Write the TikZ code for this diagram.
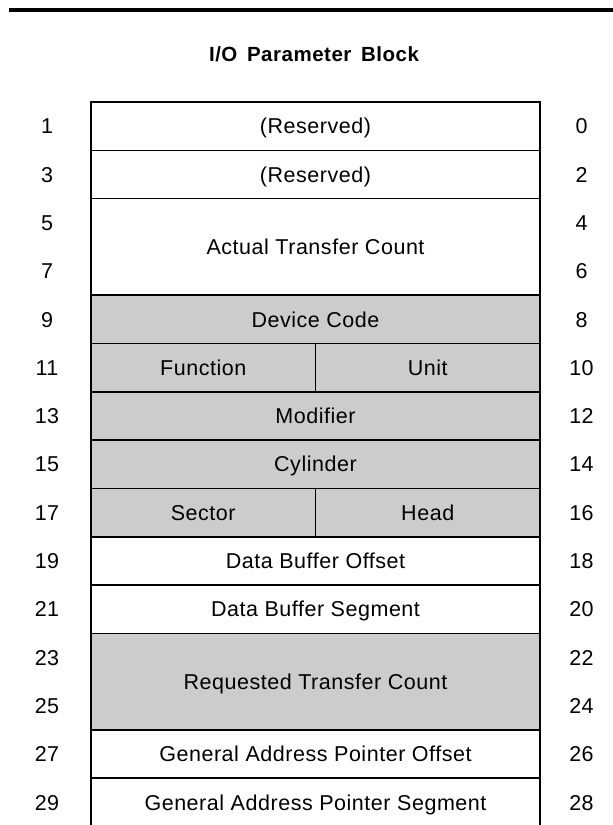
\documentclass[tikz,border=0pt]{standalone}
\usepackage{fontspec}
\setmainfont{Liberation Sans}[LetterSpace=2.5]
\usetikzlibrary{positioning}

\begin{document}
\begin{tikzpicture}[
        x=1pt, y=-1pt,
        font=\fontsize{21.5}{25}\selectfont,
        cell/.style={draw, line width=1.6pt, minimum height=48.3pt, minimum width=449pt,
            anchor=north west, inner sep=0pt, outer sep=0pt, text height=15.4pt, text depth=0pt},
        tallcell/.style={cell, minimum height=96.6pt},
        halfcell/.style={cell, minimum width=224.5pt},
        shaded/.style={fill=black!20},
        num/.style={inner sep=0pt, text height=15.4pt, text depth=0pt}
    ]
        \useasboundingbox (0,0) rectangle (613,825);
        \draw[line width=4pt] (9,9.5) -- (613,9.5);
        \node[num, text height=14.7pt, font=\fontsize{20.5}{24}\selectfont\bfseries] (title) at (314,54.5) {I/O\, Parameter\, Block};

        % rows of the block
        \node[cell] (res0) at (91,102) {(Reserved)};
        \node[cell] (res2) at (91,150.3) {(Reserved)};
        \node[tallcell] (count) at (91,198.6) {Actual Transfer Count};
        \node[cell, shaded] (device) at (91,295.2) {Device Code};
        \node[halfcell, shaded] (function) at (91,343.5) {Function};
        \node[halfcell, shaded] (unit) at (315.5,343.5) {Unit};
        \node[cell, shaded] (modifier) at (91,391.8) {Modifier};
        \node[cell, shaded] (cylinder) at (91,440.1) {Cylinder};
        \node[halfcell, shaded] (sector) at (91,488.4) {Sector};
        \node[halfcell, shaded] (head) at (315.5,488.4) {Head};
        \node[cell] (bufoff) at (91,536.7) {Data Buffer Offset};
        \node[cell] (bufseg) at (91,585) {Data Buffer Segment};
        \node[tallcell, shaded] (request) at (91,633.3) {Requested Transfer Count};
        \node[cell] (gapoff) at (91,729.9) {General Address Pointer Offset};
        \node[cell, draw=none] (gapseg) at (91,778.2) {General Address Pointer Segment};
        \coordinate (segbl) at (91,825);
        \coordinate (segbr) at (540,825);
        \draw[line width=1.6pt] (gapseg.north west) -- (segbl);
        \draw[line width=1.6pt] (gapseg.north east) -- (segbr);

        % byte offsets
        \foreach \i in {0,...,14} {
            \pgfmathtruncatemacro{\odd}{2*\i+1}
            \pgfmathtruncatemacro{\even}{2*\i}
            \node[num] (odd\i) at (47,126.15+48.3*\i) {\odd};
            \node[num] (even\i) at (581.5,126.15+48.3*\i) {\even};
        }
    \end{tikzpicture}
\end{document}
